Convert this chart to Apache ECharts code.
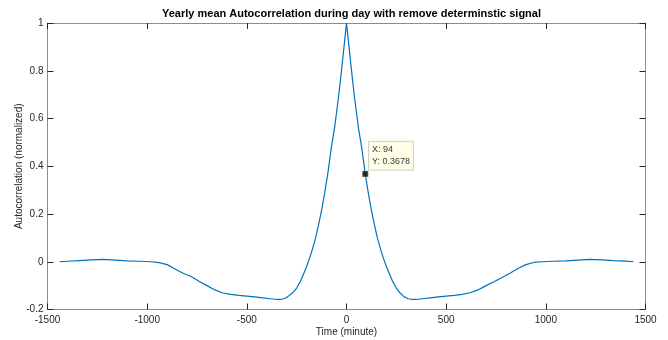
<!DOCTYPE html>
<html>
<head>
<meta charset="utf-8">
<script src="https://cdn.jsdelivr.net/npm/echarts@6/dist/echarts.min.js"></script>
<style>
  html, body { margin: 0; padding: 0; background: #fff; }
  #chart { width: 668px; height: 340px; }
</style>
</head>
<body>
<div id="chart"></div>
<script>
// Lag in minutes and the yearly mean normalized autocorrelation at that lag
const lagMinutes = [
  -1440, -1400, -1340, -1280, -1220, -1160, -1100, -1040, -980, -940,
  -900, -860, -820, -780, -740, -700, -660, -620, -580, -540,
  -500, -460, -420, -380, -350, -330, -310, -290, -270, -250,
  -230, -215, -200, -185, -170, -155, -140, -125, -110, -94,
  -80, -72, -60, -50, -40, -30, -20, -10, 0,
  10, 20, 30, 40, 50, 60, 72, 80, 94, 110,
  125, 140, 155, 170, 185, 200, 215, 230, 250, 270,
  290, 310, 330, 350, 380, 420, 460, 500, 540, 580,
  620, 660, 700, 740, 780, 820, 860, 900, 940, 980,
  1040, 1100, 1160, 1220, 1280, 1340, 1400, 1440
];
const autocorr = [
  0.000, 0.002, 0.005, 0.008, 0.010, 0.007, 0.004, 0.002, 0.000, -0.004,
  -0.012, -0.030, -0.048, -0.062, -0.082, -0.100, -0.118, -0.131, -0.137, -0.141,
  -0.144, -0.147, -0.151, -0.155, -0.158, -0.158, -0.154, -0.143, -0.130, -0.110,
  -0.080, -0.050, -0.020, 0.015, 0.055, 0.100, 0.155, 0.215, 0.285, 0.368,
  0.455, 0.500, 0.560, 0.625, 0.690, 0.765, 0.840, 0.920, 1.000,
  0.920, 0.840, 0.765, 0.690, 0.625, 0.560, 0.500, 0.455, 0.368, 0.285,
  0.215, 0.155, 0.100, 0.055, 0.015, -0.020, -0.050, -0.080, -0.110, -0.132,
  -0.147, -0.155, -0.158, -0.158, -0.155, -0.151, -0.147, -0.144, -0.141, -0.137,
  -0.130, -0.118, -0.100, -0.084, -0.066, -0.048, -0.028, -0.012, -0.003, 0.000,
  0.002, 0.004, 0.007, 0.010, 0.008, 0.005, 0.003, 0.000
];

// Data tip pinned on the curve
const tipLag = 94;
const tipValue = 0.3678;

const xTicks = [-1500, 1500, 500];   // min, max, step
const yTicks = [-0.2, 1, 0.2];

const inkColor = '#262626';
const frameColor = '#8c8c8c';
const fontFam = '"Liberation Sans", Arial, Helvetica, sans-serif';

const chart = echarts.init(document.getElementById('chart'), null, { renderer: 'canvas' });

const frameAxis = (extra) => Object.assign({
  type: 'value',
  axisLine: { show: true, onZero: false, lineStyle: { color: frameColor, width: 1 } },
  axisTick: { show: true, inside: true, length: 6, lineStyle: { color: inkColor, width: 1 } },
  splitLine: { show: false },
}, extra);

chart.setOption({
  animation: false,
  backgroundColor: '#ffffff',
  title: {
    text: 'Yearly mean Autocorrelation during day with remove determinstic signal',
    left: 346.5,
    textAlign: 'center',
    top: 3,
    textStyle: { fontFamily: fontFam, fontSize: 11, fontWeight: 'bold', color: '#000' }
  },
  grid: { left: 47.5, right: 22.5, top: 23, bottom: 30.5, outerBoundsMode: 'none' },
  xAxis: [
    frameAxis({
      position: 'bottom',
      min: xTicks[0], max: xTicks[1], interval: xTicks[2],
      name: 'Time (minute)', nameLocation: 'middle', nameGap: 17.5, nameMoveOverlap: false,
      nameTextStyle: { fontFamily: fontFam, fontSize: 10, color: inkColor },
      axisLabel: { margin: 6, fontFamily: fontFam, fontSize: 10, color: inkColor,
        formatter: (v) => String(v) }
    }),
    frameAxis({
      position: 'top',
      min: xTicks[0], max: xTicks[1], interval: xTicks[2],
      axisLabel: { show: false }
    })
  ],
  yAxis: [
    frameAxis({
      position: 'left',
      min: yTicks[0], max: yTicks[1], interval: yTicks[2],
      name: 'Autocorrelation (normalized)', nameLocation: 'middle', nameGap: 23.5, nameMoveOverlap: false,
      nameTextStyle: { fontFamily: fontFam, fontSize: 10, color: inkColor },
      axisLabel: { margin: 4, fontFamily: fontFam, fontSize: 10, color: inkColor,
        formatter: (v) => String(Math.round(v * 10) / 10) }
    }),
    frameAxis({
      position: 'right',
      min: yTicks[0], max: yTicks[1], interval: yTicks[2],
      axisLabel: { show: false }
    })
  ],
  series: [
    {
      type: 'line',
      data: lagMinutes.map((t, i) => [t, autocorr[i]]),
      showSymbol: false,
      lineStyle: { color: '#0072BD', width: 1.2 },
      z: 2
    },
    {
      type: 'scatter',
      data: [[tipLag, tipValue]],
      symbol: 'rect',
      symbolSize: 6,
      itemStyle: { color: '#000', borderColor: '#d9d9b0', borderWidth: 0.5 },
      label: {
        show: true,
        position: [7, -1],
        align: 'left',
        verticalAlign: 'bottom',
        formatter: () => 'X: ' + tipLag + '\nY: ' + tipValue.toFixed(4),
        fontFamily: fontFam,
        fontSize: 9,
        lineHeight: 12,
        color: '#000',
        backgroundColor: '#ffffe1',
        borderColor: '#c8c8c8',
        borderWidth: 1,
        padding: [2, 3, 2, 3]
      },
      z: 5
    }
  ]
});
</script>
</body>
</html>
